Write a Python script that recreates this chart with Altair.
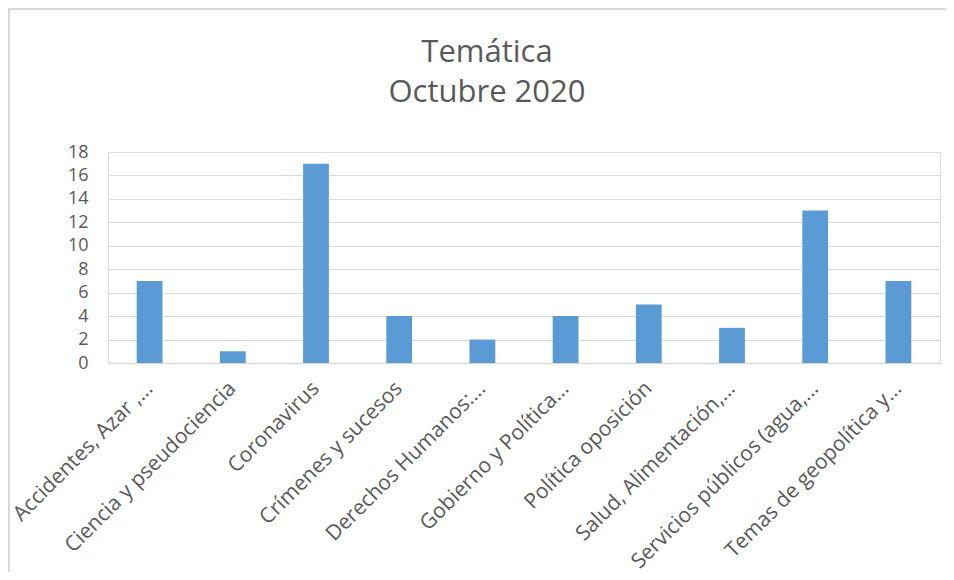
import altair as alt
import pandas as pd

title_lines = ["Temática", "Octubre 2020"]
categories = [
    "Accidentes, Azar ,...",
    "Ciencia y pseudociencia",
    "Coronavirus",
    "Crímenes y sucesos",
    "Derechos Humanos:...",
    "Gobierno y Política...",
    "Política oposición",
    "Salud, Alimentación,...",
    "Servicios públicos (agua,...",
    "Temas de geopolítica y...",
]
values = [7, 1, 17, 4, 2, 4, 5, 3, 13, 7]
y_ticks = [0, 2, 4, 6, 8, 10, 12, 14, 16, 18]

df = pd.DataFrame({"tema": categories, "n": values})
frame = pd.DataFrame({"k": [0]})

TXT = "#595959"
GRID = "#D9D9D9"
FONT = "Open Sans"

bars = alt.Chart(df).mark_bar(color="#5B9BD5").encode(
    x=alt.X(
        "tema:N",
        sort=categories,
        title=None,
        scale=alt.Scale(paddingInner=0.69, paddingOuter=0.345),
        axis=alt.Axis(
            labelAngle=-45,
            labelAlign="right",
            labelBaseline="middle",
            labelPadding=22,
            labelOffset=0,
            labelFontSize=21,
            labelColor=TXT,
            labelFont=FONT,
            labelLimit=400,
            ticks=False,
            domainColor=GRID,
            domainWidth=1.5,
            grid=False,
        ),
    ),
    y=alt.Y(
        "n:Q",
        title=None,
        scale=alt.Scale(domain=[0, 18], nice=False),
        axis=alt.Axis(
            values=y_ticks,
            labelFontSize=18,
            labelColor=TXT,
            labelFont=FONT,
            labelPadding=20,
            ticks=False,
            domain=False,
            gridColor=GRID,
            gridWidth=1.2,
        ),
    ),
)

frame_h = alt.Chart(frame).mark_rule(color=GRID, strokeWidth=2).encode(
    x=alt.value(-100), x2=alt.value(838), y=alt.value(-143)
)
frame_v = alt.Chart(frame).mark_rule(color=GRID, strokeWidth=2).encode(
    x=alt.value(-99), y=alt.value(-144), y2=alt.value(420)
)

title1 = alt.Chart(frame).mark_text(
    text=title_lines[0], font=FONT, fontSize=31, color=TXT, align="center", baseline="alphabetic"
).encode(x=alt.value(379), y=alt.value(-90))
title2 = alt.Chart(frame).mark_text(
    text=title_lines[1], font=FONT, fontSize=31, color=TXT, align="center", baseline="alphabetic"
).encode(x=alt.value(379), y=alt.value(-50))

chart = (
    alt.layer(frame_h, frame_v, title1, title2, bars)
    .properties(
        width=832,
        height=211,
        autosize=alt.AutoSizeParams(type="none"),
        padding={"left": 100, "top": 144, "right": 6, "bottom": 209},
    )
    .configure_view(stroke="transparent", strokeWidth=0)
    .configure(background="white")
)

chart.save("out.html", embed_options={"renderer": "svg", "actions": False})
